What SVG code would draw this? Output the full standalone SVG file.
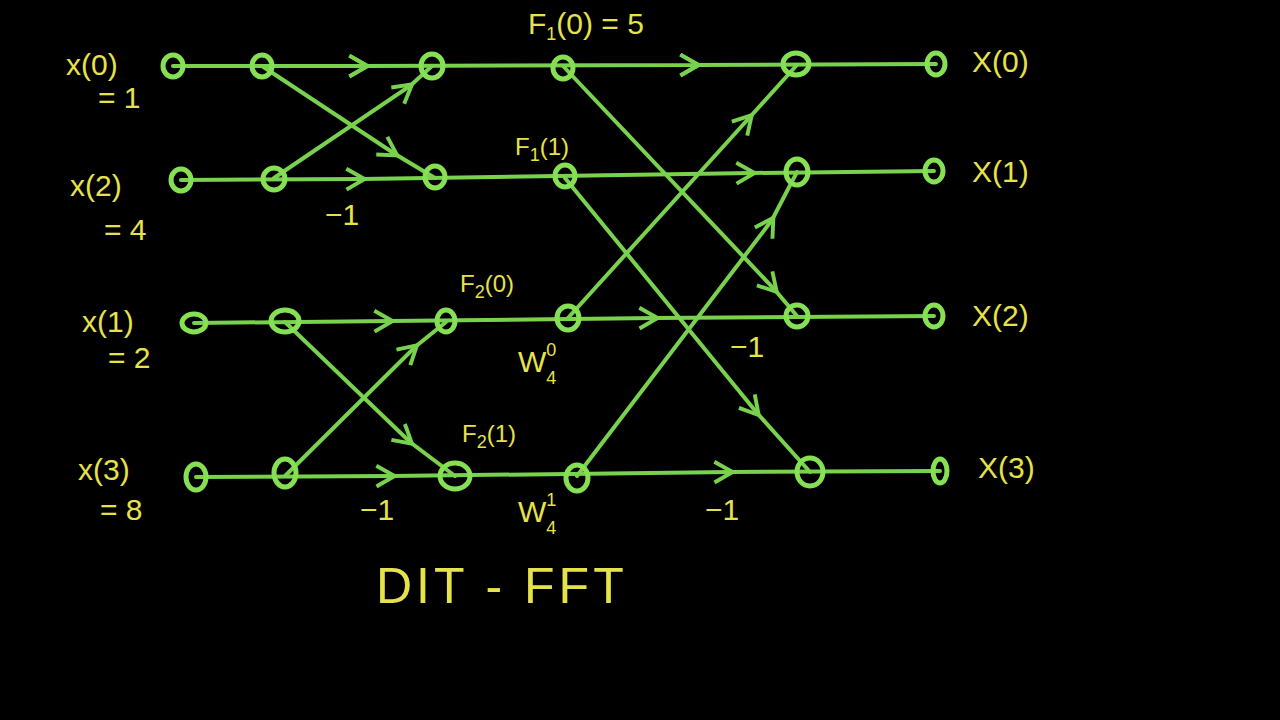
<svg xmlns="http://www.w3.org/2000/svg" width="1280" height="720" viewBox="0 0 1280 720">
<defs>
<style>
.e{stroke:#79d24e;stroke-width:4;fill:none;stroke-linecap:round}
.n{stroke:#86e053;stroke-width:5;fill:none}
.t{fill:#e6e24a;font-family:"Liberation Sans",sans-serif;font-size:30px}
.s{font-size:18px}
</style>
<marker id="a" viewBox="0 0 20 20" refX="14" refY="10" markerWidth="26" markerHeight="26" markerUnits="userSpaceOnUse" orient="auto"><path d="M2,2 L16,10 L2,18" fill="none" stroke="#79d24e" stroke-width="3"/></marker>
</defs>
<rect width="1280" height="720" fill="#000"/>
<g id="connectors">
<path class="e" d="M173,66 L365,66 M365,66 L696,65 M696,65 L936,64" marker-mid="url(#a)"/>
<path class="e" d="M181,180 L362,179 L752,173 L934,171" marker-mid="url(#a)"/>
<path class="e" d="M194,323 L390,321 L655,318 L934,316" marker-mid="url(#a)"/>
<path class="e" d="M196,477 L392,476 L730,472 L940,471" marker-mid="url(#a)"/>
<path class="e" d="M262,66 L395,154 L435,178" marker-mid="url(#a)"/>
<path class="e" d="M274,178 L410,86 L432,66" marker-mid="url(#a)"/>
<path class="e" d="M285,322 L410,442 L455,476" marker-mid="url(#a)"/>
<path class="e" d="M285,476 L415,347 L446,322" marker-mid="url(#a)"/>
<path class="e" d="M563,66 L775,290 L797,316" marker-mid="url(#a)"/>
<path class="e" d="M565,178 L757,413 L810,472" marker-mid="url(#a)"/>
<path class="e" d="M568,318 L750,117 L796,66" marker-mid="url(#a)"/>
<path class="e" d="M577,476 L772,220 L797,172" marker-mid="url(#a)"/>
</g>
<g id="nodes">
<ellipse class="n" cx="173" cy="66" rx="10" ry="11"/><ellipse class="n" cx="262" cy="66" rx="10" ry="11"/><ellipse class="n" cx="432" cy="66" rx="11" ry="12"/><ellipse class="n" cx="563" cy="68" rx="10" ry="11"/><ellipse class="n" cx="796" cy="64" rx="13" ry="11"/><ellipse class="n" cx="936" cy="64" rx="9" ry="11"/>
<ellipse class="n" cx="181" cy="180" rx="10" ry="11"/><ellipse class="n" cx="274" cy="179" rx="11" ry="11"/><ellipse class="n" cx="435" cy="177" rx="10" ry="11"/><ellipse class="n" cx="565" cy="176" rx="10" ry="11"/><ellipse class="n" cx="797" cy="172" rx="11" ry="13"/><ellipse class="n" cx="934" cy="171" rx="9" ry="11"/>
<ellipse class="n" cx="194" cy="323" rx="12" ry="9"/><ellipse class="n" cx="285" cy="321" rx="14" ry="11"/><ellipse class="n" cx="446" cy="321" rx="9" ry="11"/><ellipse class="n" cx="568" cy="318" rx="11" ry="12"/><ellipse class="n" cx="797" cy="316" rx="11" ry="11"/><ellipse class="n" cx="934" cy="316" rx="9" ry="11"/>
<ellipse class="n" cx="196" cy="477" rx="10" ry="13"/><ellipse class="n" cx="285" cy="473" rx="11" ry="14"/><ellipse class="n" cx="455" cy="476" rx="15" ry="13"/><ellipse class="n" cx="577" cy="478" rx="11" ry="13"/><ellipse class="n" cx="810" cy="472" rx="13" ry="14"/><ellipse class="n" cx="940" cy="471" rx="7" ry="12"/>
</g>
<g id="labels">
<text class="t" x="66" y="75">x(0)</text><text class="t" x="98" y="108">= 1</text>
<text class="t" x="70" y="196">x(2)</text><text class="t" x="104" y="240">= 4</text>
<text class="t" x="82" y="332">x(1)</text><text class="t" x="108" y="368">= 2</text>
<text class="t" x="78" y="480">x(3)</text><text class="t" x="100" y="520">= 8</text>
<text class="t" x="972" y="72">X(0)</text><text class="t" x="972" y="182">X(1)</text>
<text class="t" x="972" y="326">X(2)</text><text class="t" x="978" y="478">X(3)</text>
<text class="t" x="528" y="34">F<tspan class="s" dy="6">1</tspan><tspan dy="-6">(0) = 5</tspan></text>
<text class="t" x="515" y="155" style="font-size:24px">F<tspan class="s" dy="6">1</tspan><tspan dy="-6">(1)</tspan></text>
<text class="t" x="460" y="292" style="font-size:24px">F<tspan class="s" dy="6">2</tspan><tspan dy="-6">(0)</tspan></text>
<text class="t" x="462" y="442" style="font-size:24px">F<tspan class="s" dy="6">2</tspan><tspan dy="-6">(1)</tspan></text>
<text class="t" x="518" y="372">W<tspan class="s" dy="12">4</tspan><tspan class="s" dx="-10" dy="-28">0</tspan></text>
<text class="t" x="518" y="522">W<tspan class="s" dy="12">4</tspan><tspan class="s" dx="-10" dy="-28">1</tspan></text>
<text class="t" x="325" y="225">−1</text><text class="t" x="730" y="357">−1</text>
<text class="t" x="360" y="520">−1</text><text class="t" x="705" y="520">−1</text>
<text class="t" x="376" y="603" style="font-size:50px;letter-spacing:4px">DIT - FFT</text>
</g>
</svg>
